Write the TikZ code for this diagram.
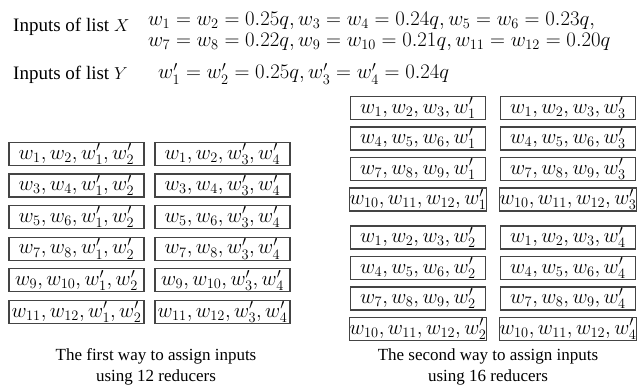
\documentclass[tikz,border=0pt]{standalone}
\usepackage{amsmath}
\usepackage{fontspec}
\setmainfont{Liberation Serif}
\usetikzlibrary{positioning}
\definecolor{boxgray}{HTML}{444444}

\begin{document}
\begin{tikzpicture}[
  x=1pt, y=1pt,
  cell/.style={draw=boxgray, line width=1.2pt, minimum width=135pt,
    minimum height=23pt, inner sep=0pt, font=\fontsize{20.5}{22}\selectfont},
  txt/.style={inner sep=0pt, font=\fontsize{19}{20}\selectfont},
  mathtxt/.style={inner sep=0pt, align=left, font=\fontsize{20.8}{21}\selectfont},
  captxt/.style={align=center, inner sep=0pt, font=\fontsize{17}{21}\selectfont}
]
  \useasboundingbox (0,0) rectangle (637,-387);

  % Header: the two input lists
  \node[txt, anchor=base west] (xlabel) at (13,-32) {Inputs of list $X$};
  \node[mathtxt, anchor=base west] (xlist) at (148,-46.5)
    {$w_1 = w_2 = 0.25q, w_3 = w_4 = 0.24q, w_5 = w_6 = 0.23q,$\\
     $w_7 = w_8 = 0.22q, w_9 = w_{10} = 0.21q, w_{11} = w_{12} = 0.20q$};
  \node[txt, anchor=base west] (ylabel) at (13,-80) {Inputs of list $Y$};
  \node[mathtxt, anchor=base west] (ylist) at (158,-79)
    {$w_1' = w_2' = 0.25q, w_3' = w_4' = 0.24q$};

  % First way: 12 reducers
  \foreach \j [count=\i from 1] in {1,3,5,7,9,11} {
    \pgfmathtruncatemacro\k{\j+1}
    \node[cell] (a\i) at (76.5,-154-31.6*\i+31.6) {$w_{\j}, w_{\k}, w_1', w_2'$};
    \node[cell] (b\i) at (222.5,-154-31.6*\i+31.6) {$w_{\j}, w_{\k}, w_3', w_4'$};
  }
  \node[captxt] (capfirst) at (156,-367)
    {The first way to assign inputs\\using 12 reducers};

  % Second way: 16 reducers
  \foreach \j [count=\i from 1] in {1,4,7,10} {
    \pgfmathtruncatemacro\k{\j+1}
    \pgfmathtruncatemacro\l{\j+2}
    \node[cell] (c\i) at (418,-108-30.5*\i+30.5) {$w_{\j}, w_{\k}, w_{\l}, w_1'$};
    \node[cell] (d\i) at (568,-108-30.5*\i+30.5) {$w_{\j}, w_{\k}, w_{\l}, w_3'$};
    \node[cell] (e\i) at (418,-237.5-30.5*\i+30.5) {$w_{\j}, w_{\k}, w_{\l}, w_2'$};
    \node[cell] (f\i) at (568,-237.5-30.5*\i+30.5) {$w_{\j}, w_{\k}, w_{\l}, w_4'$};
  }
  \node[captxt] (capsecond) at (488,-367)
    {The second way to assign inputs\\using 16 reducers};
\end{tikzpicture}
\end{document}
